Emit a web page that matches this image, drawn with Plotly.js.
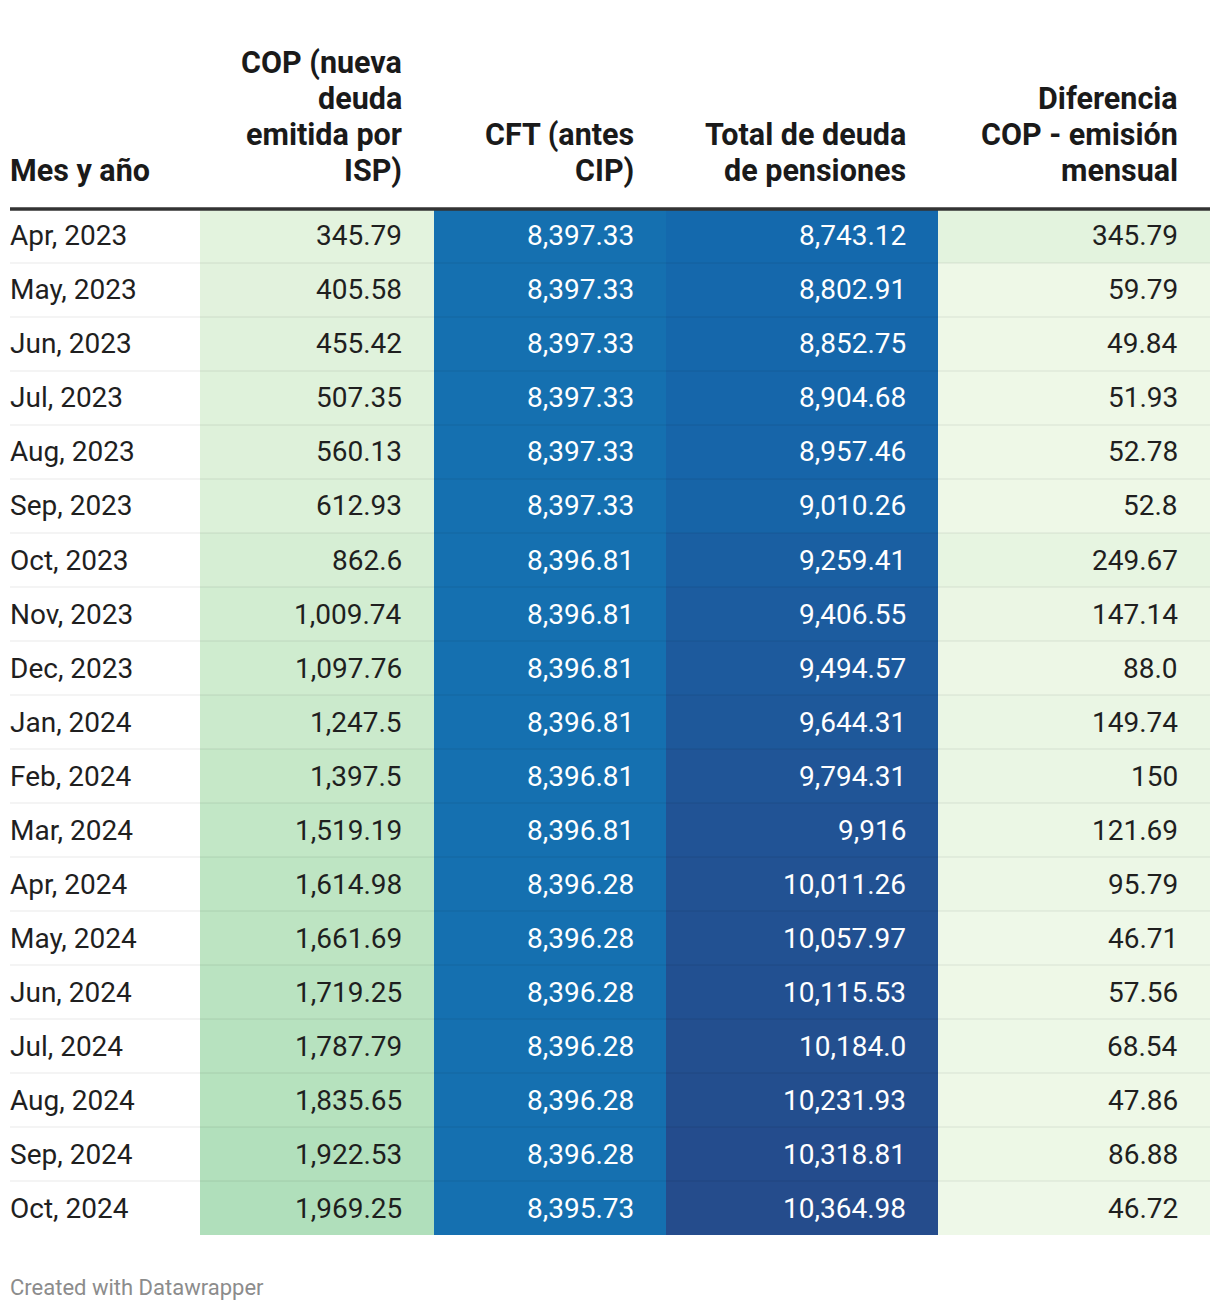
<!DOCTYPE html>
<html><head><meta charset="utf-8">
<script src="https://cdn.plot.ly/plotly-3.0.1.min.js"></script>
<style>html,body{margin:0;padding:0;background:#fff}</style>
</head><body><div id="chart" style="width:1220px;height:1310px"></div>
<script>
// ---- data ----
const months = ["Apr, 2023","May, 2023","Jun, 2023","Jul, 2023","Aug, 2023","Sep, 2023","Oct, 2023","Nov, 2023","Dec, 2023","Jan, 2024","Feb, 2024","Mar, 2024","Apr, 2024","May, 2024","Jun, 2024","Jul, 2024","Aug, 2024","Sep, 2024","Oct, 2024"];
const headers = ["Mes y año","COP (nueva<br>deuda<br>emitida por<br>ISP)","CFT (antes<br>CIP)","Total de deuda<br>de pensiones","Diferencia<br>COP - emisión<br>mensual"];
const cop = ["345.79","405.58","455.42","507.35","560.13","612.93","862.6","1009.74","1097.76","1247.5","1397.5","1519.19","1614.98","1661.69","1719.25","1787.79","1835.65","1922.53","1969.25"];
const cft = ["8397.33","8397.33","8397.33","8397.33","8397.33","8397.33","8396.81","8396.81","8396.81","8396.81","8396.81","8396.81","8396.28","8396.28","8396.28","8396.28","8396.28","8396.28","8395.73"];
const total = ["8743.12","8802.91","8852.75","8904.68","8957.46","9010.26","9259.41","9406.55","9494.57","9644.31","9794.31","9916","10011.26","10057.97","10115.53","10184.0","10231.93","10318.81","10364.98"];
const diferencia = ["345.79","59.79","49.84","51.93","52.78","52.8","249.67","147.14","88.0","149.74","150","121.69","95.79","46.71","57.56","68.54","47.86","86.88","46.72"];
const footer = "Created with Datawrapper";

// ---- style / layout constants ----
const W = 1220, H = 1310;
const TOP = 209, ROW = 54, HEADROWS = 3;
const colEdges = [10, 200, 434, 666, 938, 1210];
const PAD = 32;
const FONT = 'Roboto, sans-serif';
const BODY_SIZE = 28, HEAD_SIZE = 30.5, HEAD_LINE = 36;
const ZMAX = 10400;
const scaleV = [0, 350, 1000, 1500, 2000, 8400, 8750, 9400, 10400];
const scaleC = ['#f0f9e9', '#e3f3de', '#d2edd1', '#c3e7c6', '#afdfba', '#1570b0', '#1469ad', '#1c5c9f', '#254b8b'];

function fmt(s) {
  const parts = s.split('.');
  const ip = parts[0].replace(/\B(?=(\d{3})+(?!\d))/g, ',');
  return parts.length > 1 ? ip + '.' + parts[1] : ip;
}

const series = [cop, cft, total, diferencia];
const n = months.length;
const rows = months.map((m, i) => i);
const z = rows.map(i => series.map(s => parseFloat(s[i])));
const colorscale = scaleV.map((v, k) => [v / ZMAX, scaleC[k]]);
const BOTTOM = TOP + ROW * n;

const heat = {
  type: 'heatmap',
  x: colEdges.slice(1),
  y: rows,
  z: z,
  zmin: 0, zmax: ZMAX,
  colorscale: colorscale,
  showscale: false,
  hoverinfo: 'skip'
};

const annotations = [];
const shapes = [];
// body text
rows.forEach(i => {
  annotations.push({x: colEdges[0], y: i, xref: 'x', yref: 'y', text: months[i], showarrow: false,
    xanchor: 'left', yanchor: 'middle', xshift: -2,
    font: {family: FONT, size: BODY_SIZE, color: '#1f1f1f'}});
  series.forEach((s, c) => {
    const v = parseFloat(s[i]);
    annotations.push({x: colEdges[c + 2] - PAD, y: i, xref: 'x', yref: 'y', text: fmt(s[i]), showarrow: false,
      xanchor: 'right', yanchor: 'middle', xshift: 2,
      font: {family: FONT, size: BODY_SIZE, color: v > 5000 ? '#ffffff' : '#1f1f1f'}});
  });
});
// header text: one annotation per line, bottom-aligned
headers.forEach((h, c) => {
  const lines = h.split('<br>');
  lines.forEach((ln, k) => {
    const fromBottom = lines.length - 1 - k;
    annotations.push({x: c === 0 ? colEdges[0] : colEdges[c + 1] - PAD, y: -0.5, xref: 'x', yref: 'y',
      text: '<b>' + ln + '</b>', showarrow: false,
      xanchor: c === 0 ? 'left' : 'right', yanchor: 'middle',
      xshift: c === 0 ? -2 : 2, yshift: 38 + HEAD_LINE * fromBottom,
      font: {family: FONT, size: HEAD_SIZE, color: '#1a1a1a'}});
  });
});
// footer
annotations.push({x: colEdges[0], y: (H - 1287) / H, xref: 'x', yref: 'paper', text: footer,
  showarrow: false, xanchor: 'left', yanchor: 'middle', xshift: -2,
  font: {family: FONT, size: 22, color: '#8c8c8c'}});

// row separators
for (let i = 0; i < n - 1; i++) {
  shapes.push({type: 'line', xref: 'x', yref: 'y', x0: colEdges[0], x1: colEdges[colEdges.length - 1],
    y0: i + 0.5, y1: i + 0.5, line: {color: 'rgba(0,0,0,0.09)', width: 1}, layer: 'above'});
}
// header rule
shapes.push({type: 'line', xref: 'x', yref: 'y', x0: colEdges[0], x1: colEdges[colEdges.length - 1],
  y0: -0.5, y1: -0.5, yshift: 0, line: {color: '#333333', width: 3.5}, layer: 'above'});

const layout = {
  width: W, height: H,
  margin: {l: 0, r: 0, t: 0, b: 0},
  paper_bgcolor: '#ffffff', plot_bgcolor: '#ffffff',
  showlegend: false,
  xaxis: {range: [0, W], domain: [0, 1], visible: false, fixedrange: true},
  yaxis: {range: [n - 0.5, -0.5 - HEADROWS], domain: [(H - BOTTOM) / H, (H - (TOP - HEADROWS * ROW)) / H],
    visible: false, fixedrange: true},
  annotations: annotations,
  shapes: shapes
};

Plotly.newPlot('chart', [heat], layout, {staticPlot: true, displayModeBar: false});
</script>
</body></html>
